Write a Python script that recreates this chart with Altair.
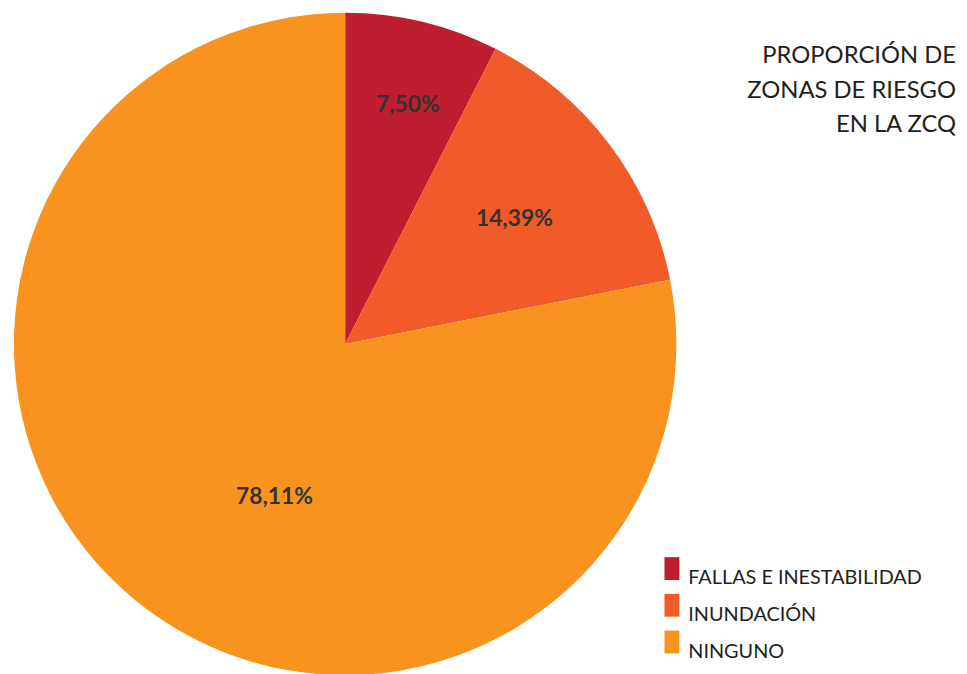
import altair as alt
import pandas as pd

# ---- data ----
categories = ["FALLAS E INESTABILIDAD", "INUNDACIÓN", "NINGUNO"]
values = [7.50, 14.39, 78.11]
labels = ["7,50%", "14,39%", "78,11%"]
colors = ["#BE1E2D", "#F15A29", "#F7931E"]
title_lines = ["PROPORCIÓN DE", "ZONAS DE RIESGO", "EN LA ZCQ"]

# ---- style: label placement per slice (radius px, angular shift in degrees) ----
label_radius = [249, 212, 170]
label_shift_deg = [1.2, 0.7, -14.6]

df = pd.DataFrame({"cat": categories, "value": values, "label": labels,
                   "idx": list(range(len(categories)))})

FONT = "Lato"
R = 334
CX, CY = 340, 336

base = (
    alt.Chart(df)
    .transform_joinaggregate(total="sum(value)")
    .transform_window(cum="sum(value)", sort=[alt.SortField("idx")], frame=[None, 0])
    .transform_calculate(
        t0="(datum.cum - datum.value) / datum.total * 2 * PI",
        t1="datum.cum / datum.total * 2 * PI",
    )
)

arcs = base.mark_arc(radius=R, stroke=None).encode(
    x=alt.value(CX),
    y=alt.value(CY),
    theta=alt.Theta("t0:Q", scale=None),
    theta2="t1:Q",
    color=alt.Color(
        "cat:N",
        scale=alt.Scale(domain=categories, range=colors),
        legend=alt.Legend(
            orient="none", legendX=658, legendY=561, title=None,
            symbolType="M-0.652,-1.87H0.652V0.13H-0.652Z", symbolSize=529,
            symbolStrokeWidth=0, symbolOpacity=1,
            labelFont=FONT, labelFontSize=20, labelColor="#231F20",
            rowPadding=4, labelOffset=5, labelLimit=400,
        ),
    ),
    order=alt.Order("idx:Q"),
)

r_expr = "[" + ",".join(str(v) for v in label_radius) + "][datum.idx]"
s_expr = "[" + ",".join(str(v) for v in label_shift_deg) + "][datum.idx]"

texts = base.transform_calculate(
    tl=f"(datum.t0 + datum.t1) / 2 + ({s_expr}) * PI / 180",
    lr=r_expr,
).mark_text(font=FONT, fontSize=23, fontWeight="bold", color="#333333").encode(
    x=alt.value(CX),
    y=alt.value(CY),
    theta=alt.Theta("tl:Q", scale=None),
    radius=alt.Radius("lr:Q", scale=None),
    text="label:N",
)

chart = (
    alt.layer(arcs, texts)
    .properties(
        width=959, height=666, padding=0,
        autosize=alt.AutoSizeParams(type="none"),
        title=alt.TitleParams(
            text=title_lines, anchor="end", frame="group", orient="top",
            align="right", baseline="top", dx=-3, dy=127, offset=0,
            font=FONT, fontSize=24, fontWeight="normal", color="#231F20",
            lineHeight=34.5,
        ),
    )
    .configure_view(stroke=None)
)

chart.save("out.html", embed_options={"renderer": "svg", "actions": False})
